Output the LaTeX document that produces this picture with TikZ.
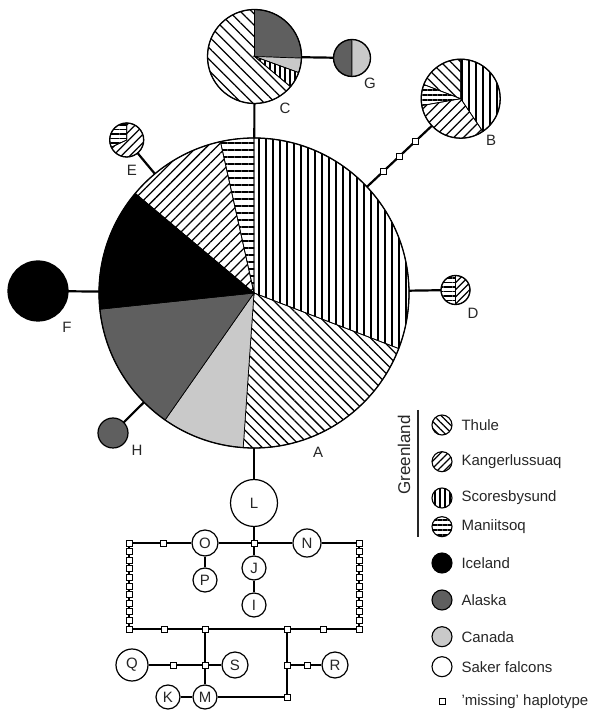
\documentclass[tikz,border=0pt]{standalone}
\usepackage{fontspec}
\setmainfont{Liberation Sans}
\usetikzlibrary{patterns.meta}
\definecolor{HapAlaska}{HTML}{5F5F5F}
\definecolor{HapCanada}{HTML}{C9C9C9}
\definecolor{HapText}{HTML}{262626}

\tikzset{
  thule/.style={pattern={Lines[angle=-45,distance=#1,line width=1.25pt]}}, thule/.default=7pt,
  kanger/.style={pattern={Lines[angle=45,distance=#1,line width=1.25pt]}}, kanger/.default=7pt,
  scores/.style={pattern={Lines[angle=90,distance=#1,line width=1.25pt]}}, scores/.default=7pt,
  maniit/.style={pattern={Lines[angle=0,distance=#1,line width=1.25pt]}}, maniit/.default=7pt,
  iceland/.style={fill=black},
  alaska/.style={fill=HapAlaska},
  canada/.style={fill=HapCanada},
  saker/.style={fill=white},
  spot/.style={circle, inner sep=0pt, minimum size=#1},
  hap/.style={circle, draw, fill=white, line width=1.2pt, inner sep=0pt, minimum size=#1, font=\fontsize{15}{15}\selectfont, text=HapText},
  miss/.style={draw, fill=white, line width=0.9pt, inner sep=0pt, minimum size=6pt},
  link/.style={line width=2.2pt},
  net/.style={line width=2.8pt},
  lab/.style={font=\fontsize{15}{15}\selectfont, text=HapText},
}

% one slice of a haplotype pie: centre node, radius, start, end, style
\newcommand\pieslice[5]{%
  \path[#5, draw, line width=.7pt] (#1.center) -- ++(#3:#2) arc[start angle=#3, end angle=#4, radius=#2] -- cycle;}
\newcommand\rim[2]{\draw[line width=1.3pt] (#1.center) circle[radius=#2];}
% one row of the legend
\newcommand\legrow[4]{%
  \path[#2, draw, line width=1.1pt] (442,#1) circle[radius=10];
  \node[lab, anchor=west] (#4) at (458,#1) {#3};}

\begin{document}
\begin{tikzpicture}[x=1pt,y=1pt]
  \useasboundingbox (0,0) rectangle (592,710);

  % haplotypes of the falcons
  \node[spot=310pt] (A) at (254,417) {};
  \node[spot=94pt] (C) at (254.5,653.5) {};
  \node[spot=37pt] (G) at (352,652) {};
  \node[spot=79pt] (B) at (460.7,611.3) {};
  \node[spot=34pt] (E) at (126.7,570) {};
  \node[spot=29pt] (D) at (455.5,420) {};
  \node[spot=60pt] (F) at (38,419) {};
  \node[spot=30pt] (H) at (113,277) {};

  \pieslice{A}{155}{90}{-21}{scores}
  \pieslice{A}{155}{-21}{-94}{thule}
  \pieslice{A}{155}{-94}{-125}{canada}
  \pieslice{A}{155}{-125}{-174}{alaska}
  \pieslice{A}{155}{-174}{-220}{iceland}
  \pieslice{A}{155}{-220}{-257.5}{kanger}
  \pieslice{A}{155}{-257.5}{-270}{maniit}
  \rim{A}{155}

  \pieslice{C}{47}{90}{-2}{alaska}
  \pieslice{C}{47}{-2}{-20}{canada}
  \pieslice{C}{47}{-20}{-40}{scores=5pt}
  \pieslice{C}{47}{-40}{-270}{thule=8pt}
  \rim{C}{47}

  \pieslice{G}{18.5}{90}{270}{alaska}
  \pieslice{G}{18.5}{-90}{90}{canada}
  \rim{G}{18.5}

  \pieslice{B}{39.5}{90}{-56}{scores}
  \pieslice{B}{39.5}{-56}{-170}{kanger}
  \pieslice{B}{39.5}{-170}{-201}{maniit=5pt}
  \pieslice{B}{39.5}{-201}{-270}{thule}
  \rim{B}{39.5}

  \pieslice{E}{17}{90}{205}{maniit=4.5pt}
  \pieslice{E}{17}{205}{450}{kanger=6pt}
  \rim{E}{17}

  \pieslice{D}{14.5}{90}{270}{maniit=4.5pt}
  \pieslice{D}{14.5}{-90}{90}{kanger=5pt}
  \rim{D}{14.5}

  \path[iceland, draw, line width=1.2pt] (F.center) circle[radius=30];
  \path[alaska, draw, line width=1.2pt] (H.center) circle[radius=15];

  \draw[link] (A) -- (C);
  \draw[link] (C) -- (G);
  \draw[link] (A) -- (B)
    node[miss, pos=.25] (ab1) {} node[miss, pos=.5] (ab2) {} node[miss, pos=.75] (ab3) {};
  \draw[link] (A) -- (E);
  \draw[link] (A) -- (D);
  \draw[link] (A) -- (F);
  \draw[link] (A) -- (H);

  \node[lab] (labA) at (318,258) {A};
  \node[lab] (labB) at (491,570) {B};
  \node[lab] (labC) at (285,602) {C};
  \node[lab] (labD) at (473,397) {D};
  \node[lab] (labE) at (132,540) {E};
  \node[lab] (labF) at (67,383) {F};
  \node[lab] (labG) at (370,627) {G};
  \node[lab] (labH) at (137,260) {H};

  % saker falcon network
  \node[hap=47pt] (L) at (254,207) {L};
  \node[miss] (tl) at (129,167) {};
  \node[miss] (t1) at (163,167) {};
  \node[hap=26pt] (O) at (205,167) {O};
  \node[miss] (tj) at (254,167) {};
  \node[hap=28pt] (N) at (307,167) {N};
  \node[miss] (tr) at (359,167) {};
  \node[hap=24pt] (P) at (205,130) {P};
  \node[hap=24pt] (J) at (254,142) {J};
  \node[hap=24pt] (I) at (254,105) {I};
  \node[miss] (bl) at (129,81) {};
  \node[miss] (b1) at (164,81) {};
  \node[miss] (bj1) at (205,81) {};
  \node[miss] (bj2) at (287,81) {};
  \node[miss] (b2) at (323,81) {};
  \node[miss] (br) at (359,81) {};
  \node[hap=32pt] (Q) at (132,45) {Q};
  \node[miss] (q1) at (173,45) {};
  \node[miss] (mj) at (205,45) {};
  \node[hap=26pt] (S) at (235,45) {S};
  \node[miss] (rj) at (287,45) {};
  \node[miss] (r1) at (307,45) {};
  \node[hap=26pt] (R) at (335,45) {R};
  \node[hap=24pt] (K) at (168,13) {K};
  \node[hap=24pt] (M) at (205,13) {M};
  \node[miss] (mc) at (287,13) {};

  \draw[link] (A) -- (L);
  \draw[net] (tl) -- (t1) -- (O) -- (tj) -- (N) -- (tr);
  \draw[net] (O) -- (P);
  \draw[net] (L) -- (tj) -- (J) -- (I);
  \draw[net] (bl) -- (b1) -- (bj1) -- (bj2) -- (b2) -- (br);
  \draw[net] (tl) -- (bl);
  \draw[net] (tr) -- (br);
  \draw[net] (bj1) -- (mj) -- (M);
  \draw[net] (Q) -- (q1) -- (mj) -- (S);
  \draw[net] (K) -- (M) -- (mc) -- (rj) -- (bj2);
  \draw[net] (rj) -- (r1) -- (R);
  \foreach \k in {1,...,9} {
    \node[miss] (lc\k) at (129,167-8.6*\k) {};
    \node[miss] (rc\k) at (359,167-8.6*\k) {};
  }
  \node[miss] (tl') at (129,167) {};
  \node[miss] (bl') at (129,81) {};
  \node[miss] (tr') at (359,167) {};
  \node[miss] (br') at (359,81) {};

  % legend
  \node[rotate=90, font=\fontsize{17}{17}\selectfont, text=HapText] (grl) at (404,255) {Greenland};
  \draw[line width=1.5pt, HapText] (418,300) -- (418,173);
  \legrow{285}{thule=5pt}{Thule}{lgT}
  \legrow{248.3}{kanger=5pt}{Kangerlussuaq}{lgK}
  \legrow{212}{scores=5pt}{Scoresbysund}{lgS}
  \legrow{183.3}{maniit=5pt}{Maniitsoq}{lgM}
  \legrow{147}{iceland}{Iceland}{lgI}
  \legrow{110}{alaska}{Alaska}{lgA}
  \legrow{73.3}{canada}{Canada}{lgC}
  \legrow{43.3}{saker}{Saker falcons}{lgSF}
  \node[miss] (lgmiss) at (442,8.3) {};
  \node[lab, anchor=west] (lgX) at (458,8.3) {'missing' haplotype};
\end{tikzpicture}
\end{document}
